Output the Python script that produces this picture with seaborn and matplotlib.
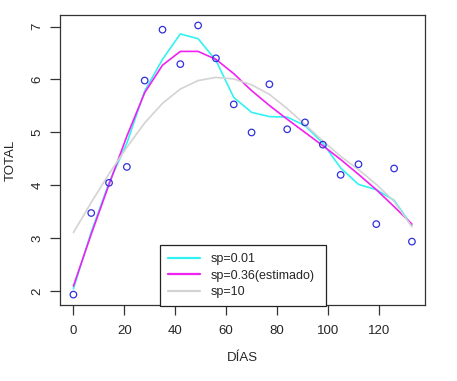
import numpy as np
import pandas as pd
import matplotlib
matplotlib.use("Agg")
import matplotlib.pyplot as plt
import seaborn as sns

# observed data
dias = [0, 7, 14, 21, 28, 35, 42, 49, 56, 63, 70, 77, 84, 91, 98, 105, 112, 119, 126, 133]
total = [1.94, 3.48, 4.05, 4.35, 5.98, 6.94, 6.29, 7.02, 6.40, 5.53,
         5.00, 5.91, 5.06, 5.19, 4.77, 4.20, 4.40, 3.27, 4.32, 2.94]

# fitted smooths for three smoothing parameters
fit_001 = [2.05, 3.12, 4.05, 4.80, 5.78, 6.38, 6.86, 6.77, 6.36, 5.66,
           5.38, 5.30, 5.29, 5.13, 4.80, 4.33, 4.02, 3.92, 3.72, 3.24]
fit_036 = [2.10, 3.08, 4.02, 4.93, 5.75, 6.27, 6.53, 6.53, 6.38, 6.11,
           5.79, 5.51, 5.25, 5.00, 4.75, 4.49, 4.21, 3.92, 3.60, 3.27]
fit_10 = [3.11, 3.68, 4.22, 4.72, 5.18, 5.55, 5.82, 5.98, 6.04, 6.01,
          5.90, 5.72, 5.45, 5.15, 4.84, 4.55, 4.30, 4.02, 3.70, 3.22]

labels = ["sp=0.01", "sp=0.36(estimado)", "sp=10"]
colors = ["#33F2F2", "#F022F0", "#D3D3D3"]

df_pts = pd.DataFrame({"DIAS": dias, "TOTAL": total})
df_fit = pd.DataFrame({
    "DIAS": dias * 3,
    "TOTAL": fit_001 + fit_036 + fit_10,
    "modelo": [labels[0]] * len(dias) + [labels[1]] * len(dias) + [labels[2]] * len(dias),
})

sns.set_style("ticks")
plt.rcParams["font.family"] = ["Liberation Sans", "DejaVu Sans"]

fig = plt.figure(figsize=(4.57, 3.81), dpi=100)
ax = fig.add_axes([0.131, 0.199, 0.800, 0.762])

# points
sns.scatterplot(data=df_pts, x="DIAS", y="TOTAL", marker="o", s=22,
                facecolor="none", edgecolor="#3030dd", linewidth=0.9, ax=ax, zorder=3)

# smooth curves
sns.lineplot(data=df_fit, x="DIAS", y="TOTAL", hue="modelo", hue_order=labels,
             palette=colors, linewidth=1.2, ax=ax, zorder=2)

ax.set_xlim(-5.32, 138.32)
ax.set_ylim(1.74, 7.22)
ax.set_xticks([0, 20, 40, 60, 80, 100, 120])
ax.set_yticks([2, 3, 4, 5, 6, 7])
ax.tick_params(axis="both", labelsize=9.5, length=7, width=0.9, color="#333333")
ax.tick_params(axis="x", pad=7)
ax.tick_params(axis="y", pad=5)
for lbl in ax.get_yticklabels():
    lbl.set_rotation(90)
    lbl.set_va("center")
for sp in ax.spines.values():
    sp.set_color("#333333")
    sp.set_linewidth(0.9)

ax.set_xlabel("DÍAS", fontsize=9.5)
ax.set_ylabel("TOTAL", fontsize=9.5)
ax.xaxis.set_label_coords(0.5, -0.160)
ax.yaxis.set_label_coords(-0.118, 0.5)

handles, lbls = ax.get_legend_handles_labels()
leg = ax.legend(handles, lbls, loc="upper left", bbox_to_anchor=(0.273, 0.0, 0.454, 0.207),
                mode="expand", borderaxespad=0, fontsize=9, frameon=True, fancybox=False,
                edgecolor="#222222", framealpha=1, handlelength=2.6, handletextpad=0.8,
                labelspacing=0.35, borderpad=0.65, title=None)
leg.get_frame().set_linewidth(0.9)
for line in leg.get_lines():
    line.set_linewidth(1.6)

plt.savefig("out.png", dpi=100)
